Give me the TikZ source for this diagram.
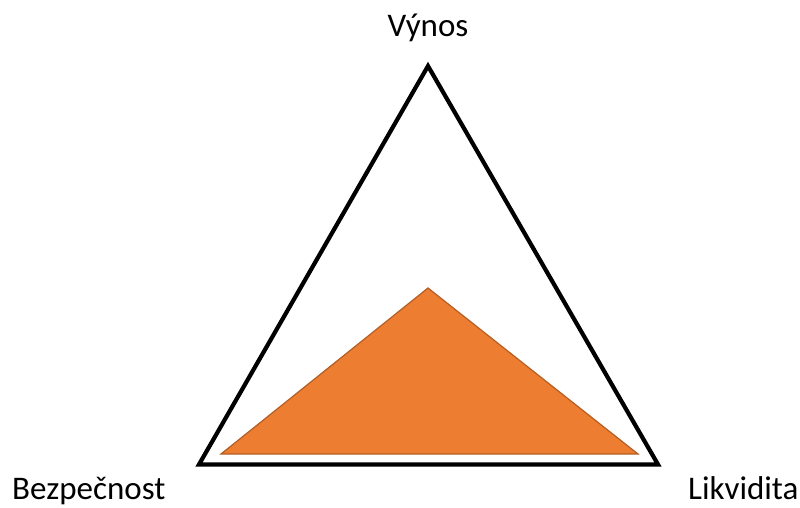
\documentclass[tikz,border=0pt]{standalone}
\usepackage{fontspec}
\setmainfont{Carlito}
\usepackage{xcolor}
\usetikzlibrary{positioning}
\definecolor{risk}{HTML}{ED7D31}
\definecolor{riskedge}{HTML}{B55E24}

\begin{document}
\begin{tikzpicture}[x=1pt, y=-1pt, every node/.style={font=\fontsize{33}{40}\selectfont, inner sep=0pt}]
\useasboundingbox (0,0) rectangle (800,508);
\coordinate (vyn-c) at (428,66);
\coordinate (bez-c) at (199,464.5);
\coordinate (lik-c) at (658,464.5);
\coordinate (in-top) at (428,288);
\coordinate (in-l) at (221,454);
\coordinate (in-r) at (638,454);
\draw[line width=4.2pt] (vyn-c) -- (bez-c) -- (lik-c) -- cycle;
\filldraw[fill=risk, draw=riskedge, line width=1.2pt] (in-top) -- (in-l) -- (in-r) -- cycle;
\node[anchor=base] (vyn) at (428,37) {Výnos};
\node[anchor=base west] (bez) at (12,499.5) {Bezpečnost};
\node[anchor=base west] (lik) at (688,499.5) {Likvidita};
\end{tikzpicture}
\end{document}
